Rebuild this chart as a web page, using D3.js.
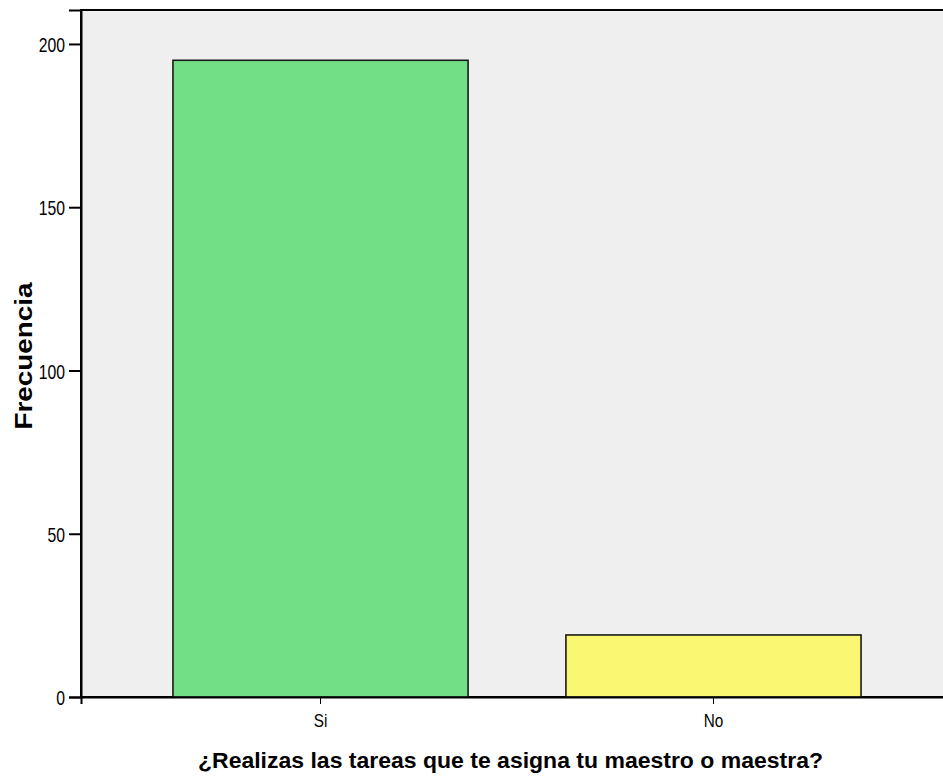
<!DOCTYPE html>
<html><head><meta charset="utf-8">
<script src="https://cdn.jsdelivr.net/npm/d3@7"></script>
<style>body{margin:0;background:#fff;} svg{display:block;}</style>
</head><body>
<script>
const categories = ["Si", "No"];
const values = [195, 19];
const colors = ["#72DE86", "#FAF873"];
const yTicks = [0, 50, 100, 150, 200];
const xTitle = "¿Realizas las tareas que te asigna tu maestro o maestra?";
const yTitle = "Frecuencia";

const W = 943, H = 780;
const mLeft = 81, mTop = 10, mBottom = 697, mRight = 953;
const FONT = "Liberation Sans, Arial, sans-serif";
const svg = d3.select("body").append("svg").attr("width", W).attr("height", H);

const x = d3.scaleBand().domain(categories).range([mLeft, mRight]).paddingInner(0.249).paddingOuter(0.234);
const y = d3.scaleLinear().domain([0, 210.4]).range([mBottom, mTop]);

svg.append("rect").attr("x", mLeft).attr("y", mTop).attr("width", mRight - mLeft).attr("height", mBottom - mTop)
  .attr("fill", "#EFEFEF").attr("stroke", "#000").attr("stroke-width", 2);

svg.selectAll("rect.bar").data(values).enter().append("rect").attr("class", "bar")
  .attr("x", (d, i) => x(categories[i]))
  .attr("y", d => y(d))
  .attr("width", x.bandwidth())
  .attr("height", d => y(0) - y(d))
  .attr("fill", (d, i) => colors[i])
  .attr("stroke", "#1a1a1a").attr("stroke-width", 1.6);

function squeeze(sel, factor) {
  sel.each(function () {
    const len = this.getComputedTextLength();
    d3.select(this).attr("textLength", len * factor).attr("lengthAdjust", "spacingAndGlyphs");
  });
}

const yAxis = d3.axisLeft(y).tickValues(yTicks).tickSize(12).tickPadding(4);
const gy = svg.append("g").attr("transform", `translate(${mLeft},0)`).call(yAxis);
gy.select(".domain").attr("stroke", "#000").attr("stroke-width", 2);
gy.selectAll(".tick line").attr("stroke", "#000").attr("stroke-width", 2);
gy.selectAll("text").attr("font-family", FONT).attr("font-size", 21).attr("fill", "#000").attr("dy", "0.36em");
squeeze(gy.selectAll("text"), 0.75);

const xAxis = d3.axisBottom(x).tickSize(7).tickPadding(10);
const gx = svg.append("g").attr("transform", `translate(0,${mBottom})`).call(xAxis);
gx.select(".domain").attr("stroke", "#000").attr("stroke-width", 2);
gx.selectAll(".tick line").attr("stroke", "#000").attr("stroke-width", 1);
gx.selectAll("text").attr("font-family", FONT).attr("font-size", 18).attr("fill", "#000");
squeeze(gx.selectAll("text"), 0.85);

const tt = svg.append("text").attr("x", 510.5).attr("y", 768).attr("text-anchor", "middle")
  .attr("font-family", FONT).attr("font-weight", "bold").attr("font-size", 22)
  .text(xTitle);
tt.attr("textLength", 625).attr("lengthAdjust", "spacingAndGlyphs");

const yt = svg.append("text").attr("transform", "translate(32,356) rotate(-90)").attr("text-anchor", "middle")
  .attr("font-family", FONT).attr("font-weight", "bold").attr("font-size", 24)
  .text(yTitle);
yt.attr("textLength", 147).attr("lengthAdjust", "spacingAndGlyphs");
</script>
</body></html>
